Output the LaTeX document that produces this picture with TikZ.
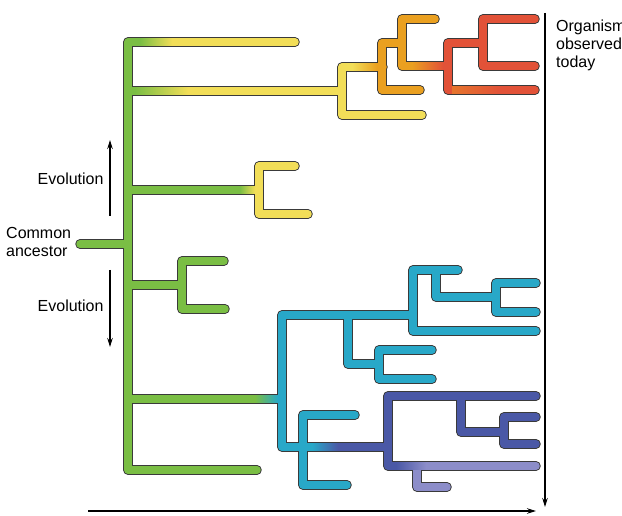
\documentclass[tikz,border=0pt]{standalone}
\usepackage{fontspec}
\setmainfont{Liberation Sans}
\usetikzlibrary{arrows.meta}
\definecolor{outl}{RGB}{58,58,58}
\definecolor{gr}{RGB}{122,190,68}
\definecolor{yl}{RGB}{242,222,88}
\definecolor{orc}{RGB}{234,160,32}
\definecolor{rd}{RGB}{226,82,56}
\definecolor{te}{RGB}{40,168,200}
\definecolor{ind}{RGB}{74,88,166}
\definecolor{lav}{RGB}{140,141,201}
\begin{document}
\begin{tikzpicture}[x=1pt,y=-1pt,
  tubeout/.style={line width=9.5pt, draw=outl, line cap=round, line join=round},
  tubein/.style={line width=7.5pt, line cap=round, line join=round},
  lbl/.style={font=\fontsize{16}{18}\selectfont, inner sep=0pt, anchor=base west},
  arr/.style={-{Stealth[length=9pt,width=5.5pt]}, line width=1.2pt, draw=black}]
\useasboundingbox (0,0) rectangle (622,516);

% ---------- outline pass ----------
\draw[tubeout]
  (295,42)--(128,42)--(128,470)--(257,470)
  (128,91)--(342,91)
  (128,190)--(259,190)
  (80,244)--(128,244)
  (128,285)--(182,285)
  (224,261)--(182,261)--(182,309)--(225,309)
  (128,399)--(282,399)
  (295,166)--(259,166)--(259,214)--(308,214)
  (383,67)--(342,67)--(342,115)--(422,115)
  (420,90)--(382,90)--(382,43)--(402,43)
  (435,19)--(402,19)--(402,66)--(448,66)
  (483,43)--(448,43)--(448,90)--(535,90)
  (535,19)--(483,19)--(483,66)--(535,66)
  (413,315)--(282,315)--(282,447)--(388,447)
  (348,315)--(348,364)--(379,364)
  (432,350)--(379,350)--(379,379)--(432,379)
  (458,270)--(413,270)--(413,331)--(536,331)
  (436,270)--(436,297)--(496,297)
  (536,283)--(496,283)--(496,312)--(536,312)
  (355,415)--(303,415)--(303,485)--(347,485)
  (536,396)--(388,396)--(388,466)--(536,466)
  (461,396)--(461,432)--(504,432)
  (536,417)--(504,417)--(504,444)--(536,444)
  (417,466)--(417,487)--(447,487);

% ---------- fill pass ----------
% yellow
\draw[tubein, draw=yl]
  (295,42)--(165,42)
  (342,91)--(185,91)
  (259,190)--(250,190)
  (295,166)--(259,166)--(259,214)--(308,214)
  (365,67)--(342,67)--(342,115)--(422,115);
% orange
\draw[tubein, draw=orc]
  (383,67)--(372,67)
  (420,90)--(382,90)--(382,43)--(402,43)
  (435,19)--(402,19)--(402,66)--(415,66);
% red
\draw[tubein, draw=rd]
  (448,66)--(438,66)
  (483,43)--(448,43)--(448,90)--(535,90)
  (535,19)--(483,19)--(483,66)--(535,66);
% teal
\draw[tubein, draw=te]
  (413,315)--(282,315)--(282,447)--(315,447)
  (282,399)--(275,399)
  (348,315)--(348,364)--(379,364)
  (432,350)--(379,350)--(379,379)--(432,379)
  (458,270)--(413,270)--(413,331)--(536,331)
  (436,270)--(436,297)--(496,297)
  (536,283)--(496,283)--(496,312)--(536,312)
  (355,415)--(303,415)--(303,485)--(347,485);
% indigo
\draw[tubein, draw=ind]
  (335,447)--(388,447)
  (536,396)--(388,396)--(388,466)--(400,466)
  (461,396)--(461,432)--(504,432)
  (536,417)--(504,417)--(504,444)--(536,444);
% lavender
\draw[tubein, draw=lav]
  (420,466)--(536,466)
  (417,466)--(417,487)--(447,487);
% green
\draw[tubein, draw=gr]
  (140,42)--(128,42)--(128,470)--(257,470)
  (128,91)--(135,91)
  (128,190)--(240,190)
  (80,244)--(128,244)
  (128,285)--(182,285)
  (224,261)--(182,261)--(182,309)--(225,309)
  (128,399)--(255,399);
% gradients
\shade[left color=gr, right color=yl] (140,38.25) rectangle (172,45.75);
\shade[left color=gr, right color=yl] (135,87.25) rectangle (188,94.75);
\shade[left color=gr, right color=yl] (240,186.25) rectangle (255,193.75);
\shade[left color=gr, right color=te] (255,395.25) rectangle (278,402.75);
\shade[left color=yl, right color=orc] (352,63.25) rectangle (377,70.75);
\shade[left color=orc, right color=rd] (412,62.25) rectangle (443,69.75);
\shade[left color=rd!55!orc, right color=rd] (452,86.25) rectangle (500,93.75);
\shade[left color=te, right color=ind] (312,443.25) rectangle (338,450.75);
\shade[left color=ind, right color=lav] (396,462.25) rectangle (426,469.75);

% ---------- arrows ----------
\coordinate (eu1) at (110,216);
\coordinate (eu2) at (110,140);
\coordinate (ed1) at (110,270);
\coordinate (ed2) at (110,347);
\coordinate (h1) at (88,511);
\coordinate (h2) at (536,511);
\coordinate (v1) at (545,13);
\coordinate (v2) at (545,507);
\draw[arr] (eu1) -- (eu2);
\draw[arr] (ed1) -- (ed2);
\draw[arr] (h1) -- (h2);
\draw[arr] (v1) -- (v2);

% ---------- labels ----------
\node[lbl] (evoup) at (37.5,185) {Evolution};
\node[lbl] (evodown) at (37.5,312) {Evolution};
\node[lbl] (ca1) at (6,238.5) {Common};
\node[lbl] (ca2) at (6,257) {ancestor};
\node[lbl] (org1) at (556,32) {Organisms};
\node[lbl] (org2) at (556,50) {observed};
\node[lbl] (org3) at (556,67.5) {today};
\end{tikzpicture}
\end{document}
